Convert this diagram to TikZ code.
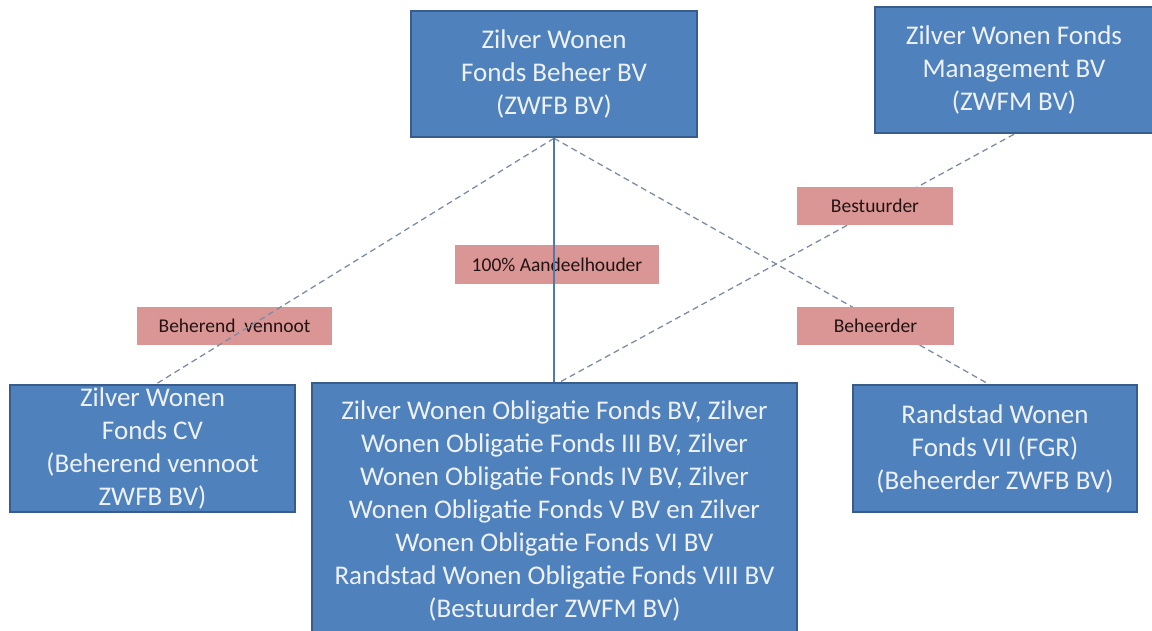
\documentclass[tikz,border=0pt]{standalone}
\usepackage{fontspec}
\setmainfont{Carlito}
\definecolor{boxfill}{RGB}{79,129,189}
\definecolor{boxline}{RGB}{56,93,138}
\definecolor{boxtext}{RGB}{238,242,248}
\definecolor{lblfill}{RGB}{217,150,148}
\definecolor{lbltext}{RGB}{35,20,20}
\definecolor{dashcol}{RGB}{125,140,165}
\definecolor{solidcol}{RGB}{79,120,175}
\begin{document}
\begin{tikzpicture}[x=1pt,y=-1pt,
  orgbox/.style={draw=boxline,line width=2.5pt,fill=boxfill,text=boxtext,
    align=center,inner sep=0pt,font=\fontsize{27}{33}\selectfont},
  lbl/.style={fill=lblfill,text=lbltext,inner sep=0pt,
    font=\fontsize{19.5}{23}\selectfont},
  rel/.style={draw=dashcol,line width=1.3pt,dash pattern=on 6pt off 4pt},
  own/.style={draw=solidcol,line width=1.2pt}]
\useasboundingbox (0,0) rectangle (1152,631);
\begin{scope}
\clip (0,0) rectangle (1152,631);
% boxes
\node[orgbox,minimum width=286,minimum height=126] (zwfb) at (554,74)
  {Zilver Wonen\\Fonds Beheer BV\\(ZWFB BV)};
\node[orgbox,minimum width=278,minimum height=126] (zwfm) at (1014,70)
  {Zilver Wonen Fonds\\Management BV\\(ZWFM BV)};
\node[orgbox,minimum width=285,minimum height=127] (cv) at (152.5,448.5)
  {Zilver Wonen\\Fonds CV\\(Beherend vennoot\\ZWFB BV)};
\node[orgbox,minimum width=485,minimum height=256] (obl) at (554.5,511)
  {Zilver Wonen Obligatie Fonds BV, Zilver\\Wonen Obligatie Fonds III BV, Zilver\\Wonen Obligatie Fonds IV BV, Zilver\\Wonen Obligatie Fonds V BV en Zilver\\Wonen Obligatie Fonds VI BV\\Randstad Wonen Obligatie Fonds VIII BV\\(Bestuurder ZWFM BV)};
\node[orgbox,minimum width=284,minimum height=127] (rs) at (995,448.5)
  {Randstad Wonen\\Fonds VII (FGR)\\(Beheerder ZWFB BV)};
% labels under lines
\node[lbl,minimum width=195,minimum height=38] (lbv) at (234.5,326) {Beherend\ \ vennoot};
\node[lbl,minimum width=204,minimum height=39] (laa) at (557,264.5) {100\% Aandeelhouder};
% connectors
\draw[rel] (zwfb.south) -- ([xshift=4pt]cv.north);
\draw[rel] (zwfb.south) -- ([xshift=-7pt]rs.north);
\draw[own] (zwfb.south) -- (zwfb.south |- obl.north);
\draw[rel] (zwfm.south) -- ([xshift=6pt]obl.north);
% labels over lines
\node[lbl,minimum width=156,minimum height=38] (lbe) at (875,206) {Bestuurder};
\node[lbl,minimum width=157,minimum height=38] (lbh) at (875.5,326) {Beheerder};
\end{scope}
\end{tikzpicture}
\end{document}
